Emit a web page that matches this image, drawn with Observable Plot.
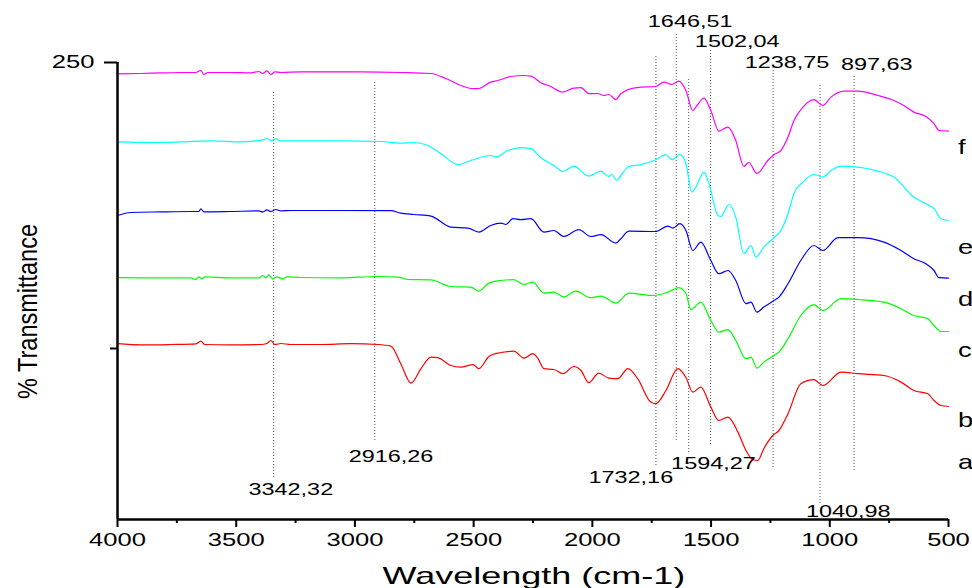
<!DOCTYPE html>
<html><head><meta charset="utf-8">
<script src="https://cdn.jsdelivr.net/npm/d3@7"></script>
<script src="https://cdn.jsdelivr.net/npm/@observablehq/plot@0.6"></script>
<style>body{margin:0;background:#fff;} #chart svg{display:block;}</style>
</head><body><div id="chart"></div>
<script>
// [wavenumber (cm-1), % transmittance (offset units)]
const magenta = [[3999,244.3],[3902,244.5],[3818,244.8],[3733,245],[3670,245],[3649,246],[3636,244],[3620,245],[3523,245],[3438,244.8],[3405,245.5],[3388,244.5],[3371,245.8],[3354,244],[3337,245.3],[3312,245],[3228,245.3],[3101,245.3],[2975,245.3],[2807,245],[2680,244.5],[2617,242],[2554,238.5],[2512,237],[2482,236.9],[2428,240.2],[2398,241],[2343,243],[2288,243.5],[2259,243.2],[2217,239.9],[2175,238],[2124,235.2],[2078,237.2],[2048,237.4],[2015,234.4],[1977,234.5],[1952,233.5],[1931,234],[1901,231.5],[1880,234.4],[1850,236.4],[1796,237.7],[1733,238],[1699,240.2],[1665,239],[1636,240.7],[1606,236],[1577,226],[1564,227.7],[1530,232.2],[1501,226],[1467,215.7],[1429,217.7],[1396,211],[1362,198],[1341,200],[1307,194.5],[1261,201],[1235,203.9],[1206,206],[1176,212.7],[1151,221],[1113,227.7],[1067,231.4],[1029,228.5],[995,232.7],[940,235.7],[881,235.7],[797,233.5],[730,231],[688,228.5],[646,225.2],[595,223],[561,219.4],[540,216],[500,215.7]];
const cyan = [[3999,210.3],[3860,210],[3733,210.3],[3607,210.8],[3481,210.3],[3388,211.3],[3371,212],[3354,211],[3333,211.8],[3312,210.8],[3228,210.8],[3059,210.8],[2891,210.5],[2807,209.7],[2752,210],[2693,208.5],[2638,204.4],[2567,199],[2512,201],[2428,203.5],[2406,202.8],[2356,206],[2301,207.4],[2259,206.9],[2217,202.4],[2162,198.5],[2124,195.5],[2078,198.2],[2015,193.2],[1964,195.7],[1931,193],[1918,194],[1897,191],[1880,193.5],[1846,198],[1796,198.9],[1733,201.4],[1690,203.9],[1665,201.4],[1631,203.9],[1606,199.4],[1581,185.2],[1564,187.7],[1530,195.2],[1509,189.4],[1471,173.5],[1459,173],[1425,179],[1396,172.7],[1362,154.4],[1332,158.5],[1311,152.7],[1278,157.7],[1240,161.9],[1206,166],[1176,174.4],[1151,184.4],[1113,190.2],[1067,194],[1029,192.7],[995,196],[953,198.2],[881,197.7],[797,195.7],[730,192.7],[646,182.7],[595,179.4],[561,176.9],[532,171.9],[500,171]];
const blue = [[3999,173.5],[3944,175],[3818,175.3],[3691,175.5],[3658,175.5],[3649,176.8],[3636,175.3],[3523,175.5],[3405,175.8],[3388,175.3],[3371,176.3],[3354,175.5],[3333,176.5],[3312,175.8],[3270,176],[3228,176],[3059,176],[2849,175.9],[2807,174.7],[2752,174],[2680,173.2],[2596,167.7],[2524,167.2],[2478,165.2],[2428,168.5],[2385,169.7],[2364,169],[2335,171.9],[2301,171.4],[2259,171.9],[2204,165.2],[2162,166],[2120,163],[2057,166.4],[2006,163],[1964,163.9],[1901,159.7],[1880,161.9],[1846,165.7],[1733,165.5],[1682,168.2],[1661,167.2],[1631,169.4],[1606,166],[1577,156],[1543,160.2],[1501,151],[1467,144.4],[1429,146],[1396,141],[1353,129.4],[1332,130.2],[1307,125.2],[1278,127.7],[1235,131],[1214,132.7],[1176,139.4],[1122,151],[1067,158.5],[1029,156],[966,162.4],[881,162.4],[772,160.2],[700,156],[646,151.9],[595,149.4],[561,146],[540,142.4],[500,142.2]];
const green = [[3999,142.4],[3902,142.3],[3775,142.3],[3691,142.3],[3670,141.5],[3658,142.8],[3645,141.8],[3632,142.8],[3523,142.3],[3405,142.3],[3388,143.5],[3375,142.3],[3363,143.8],[3346,141.8],[3329,142.8],[3304,141.8],[3287,142.8],[3228,142.5],[3059,142.3],[2904,143],[2819,142.7],[2777,141.5],[2680,141.3],[2596,138],[2512,137.7],[2478,135.7],[2436,139.7],[2385,141],[2331,141.4],[2288,139],[2251,140.2],[2204,134.7],[2162,135.2],[2120,132.7],[2070,135.7],[2006,132.4],[1964,133.2],[1901,129.7],[1846,134.7],[1741,133.5],[1682,135.2],[1636,137.4],[1606,134.5],[1585,126.4],[1543,130.2],[1501,121],[1467,115.2],[1429,116.4],[1396,111],[1353,101.9],[1332,102.7],[1307,97.2],[1278,100.2],[1235,103.5],[1214,105.2],[1176,111.9],[1122,123.5],[1067,128.9],[1029,126],[953,131.9],[881,131.5],[772,130.2],[700,126.9],[646,123.5],[587,121.9],[561,118.5],[532,115.5],[500,115.5]];
const red = [[3999,109.4],[3902,108.8],[3775,109],[3670,109.3],[3649,110.7],[3632,109],[3523,108.8],[3396,109],[3371,109.5],[3354,111],[3337,109],[3312,109.5],[3270,109],[3144,109],[3017,109.4],[2904,109],[2849,108.2],[2807,99.4],[2764,89.7],[2722,96.9],[2680,102.7],[2651,102.4],[2596,98.5],[2554,97.7],[2503,98.9],[2478,96.9],[2436,103],[2398,104.7],[2373,105.2],[2331,105.7],[2288,102.2],[2251,104.4],[2230,102.2],[2204,96.9],[2162,96.5],[2124,94.4],[2078,98],[2048,96],[2015,89.9],[1973,94.7],[1931,92.2],[1893,91.9],[1850,96.9],[1809,91.9],[1754,80.2],[1733,79.4],[1690,86],[1640,96.9],[1606,92.5],[1577,85.2],[1543,87.7],[1501,77.7],[1467,71],[1429,72.7],[1387,65.2],[1353,56],[1324,51.4],[1303,51],[1278,56.9],[1240,63.5],[1214,66],[1176,74.4],[1122,89.4],[1067,91.4],[1029,88.5],[953,95.2],[881,94.4],[772,93.5],[700,90.2],[646,86],[587,84.4],[561,81],[532,78.5],[500,78]];

const seriesData = [magenta, cyan, blue, green, red];
const seriesColors = ["#ff00ff", "#00ffff", "#0000ff", "#00ff00", "#ff0000"];

const xTicks = [4000, 3500, 3000, 2500, 2000, 1500, 1000, 500];
const xMinorTicks = [3750, 3250, 2750, 2250, 1750, 1250, 750];
const yTicks = [250];
const yMinorTicks = [107];

const peakWn = [3342.32, 2916.26, 1732.16, 1646.51, 1594.27, 1502.04, 1238.75, 1040.98, 897.63];
const peakTop = [236, 241, 253.5, 265, 242.5, 256, 247.5, 239.5, 243.5];
const peakBottom = [42.5, 61, 48.5, 61, 55, 59, 47.5, 29.5, 46];
const peakLabelWn = [3270, 2848, 1838, 1588, 1490, 1390, 1180, 922, 802];
const peakLabelT = [36.6, 52.8, 42.3, 270.6, 49.3, 260.6, 249.9, 25.6, 248.8];

const sampleLetters = ["f", "e", "d", "c", "b", "a"];
const letterT = [207.4, 157.7, 131.4, 106, 71, 50.2];
const letterWn = 460;

const xTitle = "Wavelength (cm-1)";
const yTitle = "% Transmittance";
const xTitlePos = [2246, -6.8];
const yTitlePos = [4378, 125.5];

const peaks = peakWn.map((w, i) => ({
  w, y1: peakBottom[i], y2: peakTop[i],
  lx: peakLabelWn[i], ly: peakLabelT[i],
  label: w.toFixed(2).replace(".", ",")
}));

const svg = Plot.plot({
  width: 972, height: 588,
  marginLeft: 117, marginRight: 24, marginTop: 62, marginBottom: 69,
  style: {fontFamily: "'Liberation Sans', Arial, sans-serif", background: "#fff", color: "#000", overflow: "visible"},
  x: {domain: [4000, 500], axis: null},
  y: {domain: [21.5, 250], axis: null},
  marks: [
    Plot.ruleX(peaks, {x: "w", y1: "y1", y2: "y2", stroke: "#555", strokeDasharray: "1,2", strokeWidth: 1}),
    ...seriesData.map((s, i) => Plot.line(s, {x: d => d[0], y: d => d[1], stroke: seriesColors[i], strokeWidth: 1.2, curve: "monotone-x"})),
    Plot.text(peaks, {x: "lx", y: "ly", text: "label", fontSize: 16.5, fill: "#000"}),
    Plot.ruleY([21.5], {stroke: "#000", strokeWidth: 2.5}),
    Plot.ruleX([4000], {stroke: "#000", strokeWidth: 2.5}),
    Plot.axisX(xTicks, {tickSize: 8, tickPadding: 6, fontSize: 18, strokeWidth: 2, tickFormat: d => String(d), label: null}),
    Plot.axisX(xMinorTicks, {tickSize: 4, strokeWidth: 2, tickFormat: () => "", label: null}),
    Plot.axisY(yTicks, {tickSize: 13, tickPadding: 10, fontSize: 18, strokeWidth: 2, tickFormat: d => String(d), label: null}),
    Plot.axisY(yMinorTicks, {tickSize: 7, strokeWidth: 2, tickFormat: () => "", label: null}),
    Plot.text(sampleLetters, {x: () => letterWn, y: (d, i) => letterT[i], text: d => d, textAnchor: "start", fontSize: 21}),
    Plot.text([xTitle], {x: () => xTitlePos[0], y: () => xTitlePos[1], text: d => d, fontSize: 24}),
    Plot.text([yTitle], {x: () => yTitlePos[0], y: () => yTitlePos[1], text: d => d, rotate: -90, fontSize: 23.5})
  ]
});
document.getElementById("chart").append(svg);

// The reference's lettering is horizontally stretched; widen glyphs to match.
svg.querySelectorAll("text").forEach(t => {
  const s = t.textContent;
  if (!s) return;
  if (s === yTitle) {
    t.setAttribute("transform", (t.getAttribute("transform") || "") + " scale(1,1.2)");
    return;
  }
  let k = 1.42;
  if (s === xTitle) k = 1.5;
  else if (sampleLetters.includes(s)) k = 1.3;
  const L = t.getComputedTextLength();
  if (L > 0) {
    t.setAttribute("textLength", (L * k).toFixed(1));
    t.setAttribute("lengthAdjust", "spacingAndGlyphs");
  }
});
</script>
</body></html>
